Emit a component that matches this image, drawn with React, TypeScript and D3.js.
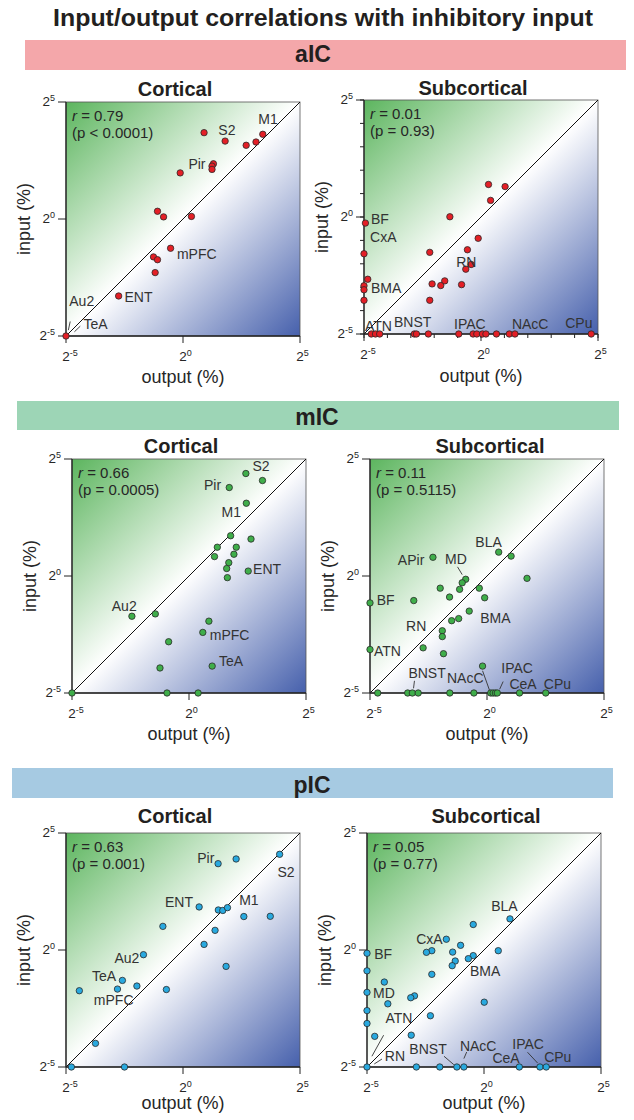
import React from 'react';
import * as d3 from 'd3';

const FONT = '"Liberation Sans", Arial, Helvetica, sans-serif';
const TEXT = '#262626';

// ---------------- data (log2 of % values: [output, input]) ----------------
const aicCortical: [number, number][] = [
  [0.9, 3.69], [1.8, 3.33], [2.7, 3.15], [3.12, 3.29], [3.41, 3.62], [1.3, 2.36], [1.24, 2.26],
  [1.24, 2.12], [-0.12, 1.97], [-1.09, 0.33], [-0.83, 0.09], [0.36, 0.11], [-0.53, -1.25],
  [-1.26, -1.62], [-1.09, -1.74], [-1.19, -2.29], [-2.75, -3.29], [-5, -5],
];
const aicSubcortical: [number, number][] = [
  [0.32, 1.39], [1.03, 1.3], [0.41, 0.71], [-1.33, 0.01], [-0.12, -0.91], [-0.58, -1.4],
  [-2.19, -1.51], [-0.65, -2.23], [-0.42, -2.03], [-0.83, -2.89], [-1.55, -2.73], [-1.72, -2.93],
  [-2.09, -2.86], [-2.19, -3.56], [-4.94, -0.26], [-5, -1.57], [-4.84, -2.66], [-5, -2.94],
  [-5, -3.11], [-5, -3.56], [-4.69, -5], [-4.51, -5], [-4.33, -5], [-2.85, -5], [-2.76, -5],
  [-2.25, -5], [-0.95, -5], [-0.34, -5], [-0.18, -5], [0.06, -5], [0.21, -5], [0.66, -5],
  [1.21, -5], [1.45, -5], [4.71, -5],
];
const micCortical: [number, number][] = [
  [2.43, 4.38], [3.14, 4.08], [1.72, 3.78], [2.45, 3.11], [1.78, 1.72], [2.65, 1.58], [1.21, 1.23],
  [2.02, 1.23], [1.09, 0.83], [1.92, 0.93], [1.7, 0.57], [1.61, 0.32], [1.64, -0.07], [2.53, 0.21],
  [-2.44, -1.72], [-1.44, -1.62], [0.85, -1.93], [0.59, -2.41], [-0.87, -2.81], [-1.24, -3.93],
  [0.99, -3.85], [-5, -5], [-0.94, -5], [0.39, -5],
];
const micSubcortical: [number, number][] = [
  [0.5, 1.02], [1.03, 0.85], [1.71, -0.1], [-2.31, 0.8], [-0.91, -0.14], [-1.06, -0.29],
  [-1.17, -0.57], [-2.0, -0.52], [-0.33, -0.52], [-1.6, -0.9], [-0.1, -0.93], [-3.13, -1.05],
  [-0.76, -1.5], [-1.21, -1.82], [-1.51, -1.91], [-1.91, -2.34], [-1.91, -2.59], [-1.86, -3.32],
  [-2.73, -3.07], [-5, -1.15], [-5, -3.14], [-0.19, -3.85], [-4.67, -5], [-3.39, -5], [-3.19, -5],
  [-2.94, -5], [-1.59, -5], [-0.56, -5], [0.16, -5], [0.26, -5], [0.36, -5], [0.44, -5],
  [1.39, -5], [2.51, -5],
];
const picCortical: [number, number][] = [
  [4.13, 4.09], [2.27, 3.89], [1.5, 3.69], [0.69, 1.84], [1.51, 1.71], [1.7, 1.69], [1.9, 1.81],
  [2.6, 1.43], [3.73, 1.44], [-0.86, 1.01], [1.37, 0.84], [0.9, 0.24], [-1.69, -0.2], [1.84, -0.7],
  [-2.59, -1.3], [-2.8, -1.67], [-1.97, -1.54], [-4.43, -1.74], [-0.71, -1.69], [-3.74, -3.99],
  [-4.77, -5], [-2.5, -5],
];
const picSubcortical: [number, number][] = [
  [1.11, 1.33], [-0.46, 1.09], [-1.61, 0.46], [-1.0, 0.2], [-2.23, -0.03], [-2.46, -0.1],
  [-1.34, -0.09], [0.61, -0.03], [-0.46, -0.24], [-0.67, -0.37], [-1.23, -0.47], [-1.36, -0.67],
  [-2.23, -1.04], [-4.26, -1.37], [-2.97, -1.96], [-3.13, -2.04], [-4.11, -2.3], [0.01, -2.23],
  [-2.29, -2.81], [-3.11, -3.64], [-4.67, -3.69], [-5, -0.14], [-5, -0.89], [-5, -1.81],
  [-5, -2.59], [-5, -3.14], [-5, -5], [-2.89, -5], [-1.89, -5], [-1.16, -5], [-0.86, -5],
  [1.51, -5], [2.39, -5], [2.66, -5],
];

// region labels: [name, output(log2), input(log2)]
const aicCortLabels: [string, number, number][] = [
  ['S2', 1.51, 3.58], ['M1', 3.22, 4.05], ['Pir', 0.23, 2.15], ['mPFC', -0.26, -1.7],
  ['ENT', -2.5, -3.55], ['Au2', -4.86, -3.73], ['TeA', -4.25, -4.69],
];
const aicSubLabels: [string, number, number][] = [
  ['BF', -4.7, -0.31], ['CxA', -4.74, -1.06], ['BMA', -4.7, -3.23], ['RN', -1.06, -2.14],
  ['ATN', -4.96, -4.86], ['BNST', -3.72, -4.71], ['IPAC', -1.15, -4.79], ['NAcC', 1.32, -4.79],
  ['CPu', 3.6, -4.74],
];
const micCortLabels: [string, number, number][] = [
  ['S2', 2.71, 4.5], ['Pir', 0.64, 3.68], ['M1', 1.39, 2.54], ['ENT', 2.74, 0.1],
  ['Au2', -3.3, -1.5], ['mPFC', 0.89, -2.74], ['TeA', 1.28, -3.85],
];
const micSubLabels: [string, number, number][] = [
  ['BLA', -0.5, 1.25], ['APir', -3.81, 0.46], ['MD', -1.79, 0.53], ['BF', -4.71, -1.26],
  ['RN', -3.46, -2.34], ['BMA', -0.29, -2.01], ['ATN', -4.83, -3.41], ['BNST', -3.36, -4.34],
  ['NAcC', -1.71, -4.56], ['IPAC', 0.61, -4.16], ['CeA', 0.96, -4.82], ['CPu', 2.43, -4.82],
];
const picCortLabels: [string, number, number][] = [
  ['Pir', 0.61, 3.71], ['S2', 4.04, 3.14], ['ENT', -0.77, 1.83], ['M1', 2.4, 1.93],
  ['Au2', -2.93, -0.57], ['TeA', -3.89, -1.33], ['mPFC', -3.81, -2.37],
];
const picSubLabels: [string, number, number][] = [
  ['BLA', 0.31, 1.67], ['CxA', -2.9, 0.24], ['BF', -4.69, -0.37], ['BMA', -0.6, -1.11],
  ['MD', -4.74, -2.04], ['ATN', -4.21, -3.11], ['RN', -4.24, -4.76], ['BNST', -3.19, -4.43],
  ['NAcC', -1.03, -4.33], ['CeA', 0.36, -4.83], ['IPAC', 1.21, -4.23], ['CPu', 2.57, -4.79],
];

// leader lines: [x1, y1, x2, y2] in log2 units
const aicCortLeaders: [number, number, number, number][] = [
  [-4.82, -4.38, -4.9, -4.75], [-4.64, -4.82, -4.39, -4.58],
];
const micSubLeaders: [number, number, number, number][] = [
  [-1.26, 0.39, -1.06, 0.06], [-3.1, -4.48, -3.14, -4.8], [-0.19, -4.05, 0.11, -4.89],
  [0.54, -4.84, 0.69, -4.51],
];
const picSubLeaders: [number, number, number, number][] = [
  [-4.79, -4.54, -4.29, -3.64], [-4.69, -4.87, -4.36, -4.66], [-1.71, -4.54, -1.29, -4.9],
  [-0.86, -4.64, -0.74, -4.36], [1.86, -4.37, 2.29, -4.83],
];

const rValues = ['0.79', '0.01', '0.66', '0.11', '0.63', '0.05'];
const pValues = ['(p < 0.0001)', '(p = 0.93)', '(p = 0.0005)', '(p = 0.5115)', '(p = 0.001)', '(p = 0.77)'];
const regionNames = ['aIC', 'mIC', 'pIC'];
const panelTitles = ['Cortical', 'Subcortical'];
const tickExps = [-5, 0, 5];

// ---------------- styles / layout ----------------
const regionColors = ['#e41f26', '#3fae4a', '#29a9df'];
const bandColors = ['#f4a7aa', '#9dd5b6', '#a6cae2'];

type PanelProps = {
  id: string;
  x0: number;
  y0: number;
  size: number;
  points: [number, number][];
  labels: [string, number, number][];
  leaders: [number, number, number, number][];
  r: string;
  p: string;
  color: string;
  title: string;
  titleX: number;
  titleDy: number;
  xLabelDy: number;
  minor: boolean;
};

function Panel(props: PanelProps) {
  const { id, x0, y0, size, points, labels, leaders, r, p, color, title, titleX, titleDy, xLabelDy, minor } = props;
  const xs = d3.scaleLinear().domain([-5, 5]).range([x0, x0 + size]);
  const ys = d3.scaleLinear().domain([-5, 5]).range([y0 + size, y0]);
  const gid = `grad-${id}`;
  const bottom = y0 + size;
  const minorTicks = minor ? d3.range(-5, 6) : [];
  return (
    <g fontFamily={FONT}>
      <defs>
        <linearGradient id={gid} x1="0" y1="0" x2="1" y2="1">
          <stop offset="0" stopColor="#5cb55e" />
          <stop offset="0.5" stopColor="#ffffff" />
          <stop offset="1" stopColor="#4660ac" />
        </linearGradient>
      </defs>
      <rect x={xs(-5)} y={ys(5)} width={size} height={size} fill={`url(#${gid})`} />
      <rect x={xs(-5)} y={ys(5)} width={size} height={size} fill="none" stroke="#555" strokeWidth={0.8} />
      <line x1={xs(-5)} y1={ys(-5)} x2={xs(5)} y2={ys(5)} stroke="#111" strokeWidth={1} />
      {/* axes */}
      <line x1={xs(-5)} y1={bottom} x2={xs(5)} y2={bottom} stroke="#222" strokeWidth={1.3} />
      <line x1={x0} y1={ys(-5)} x2={x0} y2={ys(5)} stroke="#222" strokeWidth={1.3} />
      {minorTicks.map((t) => (
        <g key={`m${t}`}>
          <line x1={xs(t)} x2={xs(t)} y1={bottom} y2={bottom + 4} stroke="#222" strokeWidth={1} />
          <line x1={x0 - 4} x2={x0} y1={ys(t)} y2={ys(t)} stroke="#222" strokeWidth={1} />
        </g>
      ))}
      {tickExps.map((t) => (
        <g key={`t${t}`}>
          <line x1={xs(t)} x2={xs(t)} y1={bottom} y2={bottom + 7} stroke="#222" strokeWidth={1} />
          <line x1={x0 - 8} x2={x0} y1={ys(t)} y2={ys(t)} stroke="#222" strokeWidth={1} />
          <text x={xs(t) - 3.8} y={bottom + 25} fontSize={13.5} fill={TEXT}>
            2<tspan dy={-5.5} fontSize={9}>{t}</tspan>
          </text>
          <text x={x0 - 11} y={ys(t) + 4} fontSize={13.5} fill={TEXT} textAnchor="end">
            2<tspan dy={-5.5} fontSize={9}>{t}</tspan>
          </text>
        </g>
      ))}
      {/* axis labels */}
      <text x={xs(0)} y={bottom + xLabelDy} fontSize={18} fill={TEXT} textAnchor="middle">output (%)</text>
      <text transform={`translate(${x0 - 36},${ys(0)}) rotate(-90)`} fontSize={18} fill={TEXT} textAnchor="middle">input (%)</text>
      {/* title */}
      <text x={titleX} y={y0 - titleDy} fontSize={20} fontWeight="bold" fill="#231f20" textAnchor="middle">{title}</text>
      {/* stats */}
      <text x={x0 + 6} y={y0 + 19} fontSize={15} fill={TEXT}>
        <tspan fontStyle="italic">r</tspan> = {r}
      </text>
      <text x={x0 + 6} y={y0 + 36} fontSize={15} fill={TEXT}>{p}</text>
      {/* leaders */}
      {leaders.map((l, i) => (
        <line key={`l${i}`} x1={xs(l[0])} y1={ys(l[1])} x2={xs(l[2])} y2={ys(l[3])} stroke="#333" strokeWidth={0.9} />
      ))}
      {/* points */}
      {points.map((d, i) => (
        <circle key={`p${i}`} cx={xs(d[0])} cy={ys(d[1])} r={3.2} fill={color} stroke="#2a2a2a" strokeWidth={0.8} />
      ))}
      {/* labels */}
      {labels.map((l) => (
        <text key={l[0]} x={xs(l[1])} y={ys(l[2])} fontSize={14} fill="#333">{l[0]}</text>
      ))}
    </g>
  );
}

const panelLayout = [
  { x0: 66, y0: 102, titleX: 175, titleDy: 6, xLabelDy: 47 },
  { x0: 364, y0: 100, titleX: 473, titleDy: 5, xLabelDy: 48 },
  { x0: 72, y0: 459, titleX: 181, titleDy: 6, xLabelDy: 47 },
  { x0: 370, y0: 459, titleX: 490, titleDy: 6, xLabelDy: 47 },
  { x0: 66, y0: 833, titleX: 175, titleDy: 10, xLabelDy: 42 },
  { x0: 367, y0: 833, titleX: 486, titleDy: 10, xLabelDy: 42 },
];
const bandLayout = [
  { x: 25, y: 40, w: 601, h: 30, tx: 313, ty: 62 },
  { x: 17, y: 401, w: 602, h: 29, tx: 317, ty: 425 },
  { x: 12, y: 768, w: 601, h: 30, tx: 312, ty: 793 },
];

export default function App() {
  const pointsSets = [aicCortical, aicSubcortical, micCortical, micSubcortical, picCortical, picSubcortical];
  const labelSets = [aicCortLabels, aicSubLabels, micCortLabels, micSubLabels, picCortLabels, picSubLabels];
  const leaderSets = [aicCortLeaders, [], [], micSubLeaders, [], picSubLeaders] as [number, number, number, number][][];
  return (
    <svg
      width={634}
      height={1120}
      viewBox="0 0 634 1120"
      style={{ position: 'absolute', left: 0, top: 0, display: 'block', background: '#fff' }}
      fontFamily={FONT}
    >
      <rect width={634} height={1120} fill="#fff" />
      <text x={323} y={26} fontSize={23} fontWeight="bold" fill="#231f20" textAnchor="middle" textLength={540} lengthAdjust="spacingAndGlyphs">
        Input/output correlations with inhibitory input
      </text>
      {bandLayout.map((b, i) => (
        <g key={regionNames[i]}>
          <rect x={b.x} y={b.y} width={b.w} height={b.h} fill={bandColors[i]} />
          <text x={b.tx} y={b.ty} fontSize={23} fontWeight="bold" fill="#231f20" textAnchor="middle">{regionNames[i]}</text>
        </g>
      ))}
      {panelLayout.map((pl, i) => (
        <Panel
          key={i}
          id={`p${i}`}
          x0={pl.x0}
          y0={pl.y0}
          size={234}
          points={pointsSets[i]}
          labels={labelSets[i]}
          leaders={leaderSets[i]}
          r={rValues[i]}
          p={pValues[i]}
          color={regionColors[Math.floor(i / 2)]}
          title={panelTitles[i % 2]}
          titleX={pl.titleX}
          titleDy={pl.titleDy}
          xLabelDy={pl.xLabelDy}
          minor={i === 1}
        />
      ))}
    </svg>
  );
}
